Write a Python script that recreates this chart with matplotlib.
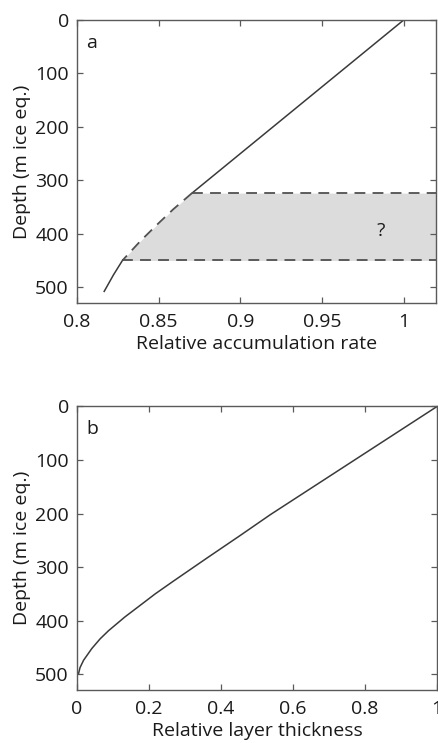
import matplotlib
matplotlib.use("Agg")
import matplotlib.pyplot as plt

plt.rcParams["font.family"] = ["Open Sans", "DejaVu Sans"]

LINE = "#3a3a3a"
DASH = "#505050"
FILL = "#dcdcdc"
SPINE = "#5a5a5a"
TXT = "#1a1a1a"

# panel a: relative accumulation rate vs depth
acc_upper_rate = [1.0, 0.96, 0.92, 0.8704]
acc_upper_depth = [0, 100, 200, 324]
acc_mid_rate = [0.8704, 0.859, 0.849, 0.8387, 0.8278]
acc_mid_depth = [324, 354, 383, 414, 450]
acc_lower_rate = [0.8278, 0.8223, 0.8166]
acc_lower_depth = [450, 477, 508]
band_top, band_bottom = 324, 450

# panel b: relative layer thickness vs depth
thick = [1.0, 0.537, 0.453, 0.361, 0.268, 0.217, 0.18, 0.133,
         0.087, 0.064, 0.041, 0.018, 0.008, 0.004]
thick_depth = [0, 202, 241, 283, 326, 350, 369, 393,
               419, 434, 452, 474, 488, 499]

fig = plt.figure(figsize=(4.38, 7.43), dpi=100)
ax_a = fig.add_axes([0.176, 0.592, 0.820, 0.381])
ax_b = fig.add_axes([0.176, 0.071, 0.822, 0.382])

FS = 14


def style(ax):
    for s in ax.spines.values():
        s.set_color(SPINE)
        s.set_linewidth(1.0)
    ax.tick_params(direction="in", top=True, right=True, length=4,
                   width=0.9, color=SPINE, labelsize=FS, pad=7,
                   labelcolor=TXT)
    ax.tick_params(axis="y", pad=6)
    ax.set_ylim(530, 0)
    ax.set_yticks([0, 100, 200, 300, 400, 500])
    ax.set_ylabel("Depth (m ice eq.)", fontsize=FS, color=TXT, labelpad=3)


# --- panel a
style(ax_a)
ax_a.set_xlim(0.8, 1.02)
ax_a.set_xticks([0.8, 0.85, 0.9, 0.95, 1.0])
ax_a.set_xticklabels(["0.8", "0.85", "0.9", "0.95", "1"])
ax_a.fill_betweenx(acc_mid_depth, acc_mid_rate, 1.02, color=FILL, lw=0)
ax_a.plot(acc_upper_rate, acc_upper_depth, color=LINE, lw=1.1)
ax_a.plot(acc_mid_rate, acc_mid_depth, color=DASH, lw=1.3, ls=(0, (6, 4)))
ax_a.plot(acc_lower_rate, acc_lower_depth, color=LINE, lw=1.1)
ax_a.plot([acc_mid_rate[0], 1.02], [band_top, band_top],
          color=DASH, lw=1.3, ls=(0, (6, 4)))
ax_a.plot([acc_mid_rate[-1], 1.02], [band_bottom, band_bottom],
          color=DASH, lw=1.3, ls=(0, (6, 4)))
ax_a.text(0.986, 395, "?", fontsize=FS, ha="center", va="center", color=TXT)
ax_a.text(0.025, 0.92, "a", transform=ax_a.transAxes, fontsize=FS,
          va="center", ha="left", color=TXT)
ax_a.set_xlabel("Relative accumulation rate", fontsize=FS, color=TXT, labelpad=3)

# --- panel b
style(ax_b)
ax_b.set_xlim(0, 1)
ax_b.set_xticks([0, 0.2, 0.4, 0.6, 0.8, 1.0])
ax_b.set_xticklabels(["0", "0.2", "0.4", "0.6", "0.8", "1"])
ax_b.plot(thick, thick_depth, color=LINE, lw=1.1)
ax_b.text(0.025, 0.92, "b", transform=ax_b.transAxes, fontsize=FS,
          va="center", ha="left", color=TXT)
ax_b.set_xlabel("Relative layer thickness", fontsize=FS, color=TXT, labelpad=3)

fig.savefig("out.png", dpi=100)
